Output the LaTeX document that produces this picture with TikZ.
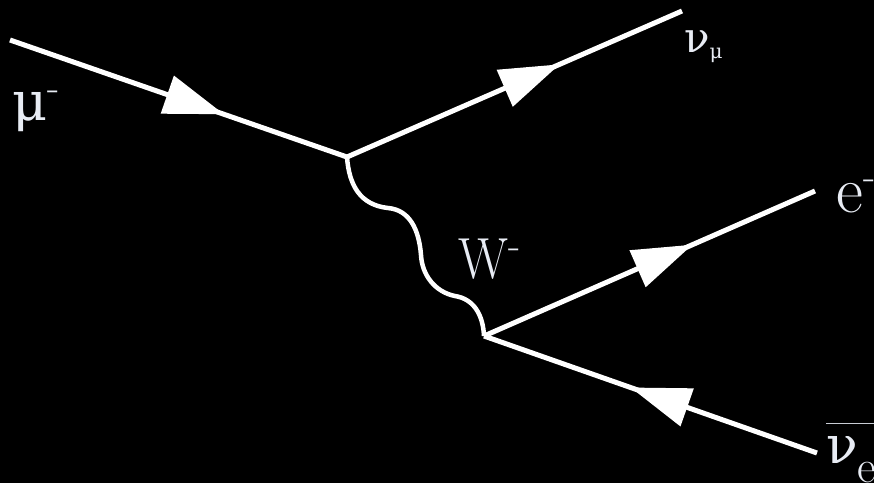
\documentclass[tikz,border=0pt]{standalone}
\usepackage{fontspec}
\newfontfamily\grk{DejaVu Serif}
\usetikzlibrary{arrows.meta,decorations.markings}
\definecolor{lbl}{RGB}{232,236,244}
\definecolor{barcol}{RGB}{200,204,212}
\tikzset{
  fermion/.style={line width=5pt, white, postaction={decorate},
    decoration={markings, mark=at position #1 with {\arrow{Triangle[length=60pt,width=39pt]}}}},
  boson/.style={line width=4.5pt, white},
  lab/.style={text=lbl, inner sep=0pt, anchor=base west, font=\fontsize{58pt}{58pt}\selectfont},
}
\newcommand{\supminus}[1]{\raisebox{#1}{\fontsize{40pt}{40pt}\selectfont -}}
\begin{document}
\begin{tikzpicture}[x=1pt,y=-1pt]
\fill[black] (0,0) rectangle (874,483);
\useasboundingbox (0,0) rectangle (874,483);
\coordinate (mu) at (10,40);
\coordinate (v1) at (347,157);
\coordinate (numu) at (682,11);
\coordinate (v2) at (484,336);
\coordinate (e) at (815,191);
\coordinate (nue) at (817,453);
\draw[fermion=0.635] (mu) -- (v1);
\draw[fermion=0.635] (v1) -- (numu);
\draw[fermion=0.63] (v2) -- (e);
\draw[fermion=0.56] (nue) -- (v2);
\draw[boson] (v1) .. controls (349,185) and (360,205) .. (388,208)
  .. controls (410,210) and (419,230) .. (421,255)
  .. controls (422,275) and (435,292) .. (455,296)
  .. controls (474,299) and (483,315) .. (v2);
\node[lab] (lmu) at (12,120) {{\grk\fontsize{54pt}{54pt}\selectfont μ}\supminus{20pt}};
\node[lab] (lw) at (458,278) {\scalebox{0.9}[1]{W}\supminus{20pt}};
\node[lab, font=\fontsize{66pt}{66pt}\selectfont] (le) at (836,212) {e\supminus{23pt}};
\node[lab, font=\grk\fontsize{42pt}{42pt}\selectfont] (lnumu) at (684,52) {ν\raisebox{-6pt}{\fontsize{20pt}{20pt}\selectfont μ}};
\node[lab] (lnue) at (826,463) {\rlap{\raisebox{39pt}{\color{barcol}\rule{60pt}{1.5pt}}}{\grk\fontsize{52pt}{52pt}\selectfont ν}\raisebox{-19pt}{\fontsize{46pt}{46pt}\selectfont e}};
\end{tikzpicture}
\end{document}
